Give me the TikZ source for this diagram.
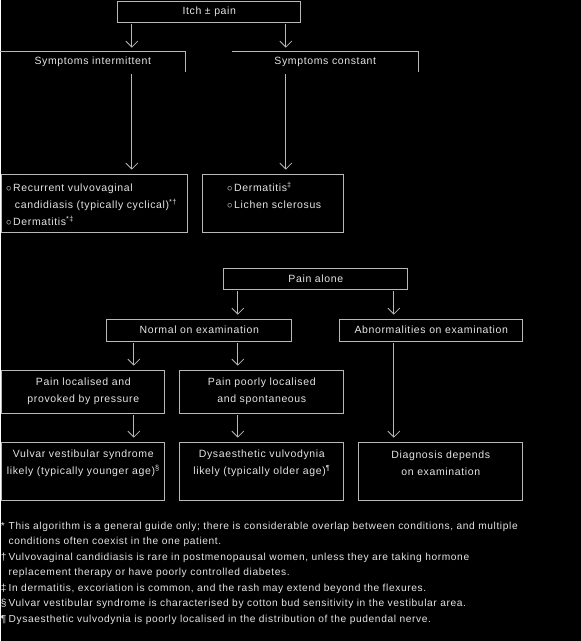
\documentclass[tikz,border=0pt]{standalone}
\usepackage{fontspec}
\setmainfont{Liberation Sans}[LetterSpace=6]
\usetikzlibrary{arrows.meta}
\definecolor{linegrey}{gray}{0.72}
\definecolor{textgrey}{gray}{0.9}
\newcommand{\boxfont}{\fontsize{10.5}{17}\selectfont}
\newcommand{\notefont}{\fontsize{10.2}{15.5}\selectfont}
\begin{document}
\begin{tikzpicture}[x=1pt,y=-1pt,
  box/.style={draw=linegrey,line width=.8pt,inner sep=0pt,minimum height=21pt,text=textgrey,align=center,font=\boxfont},
  tab/.style={box,draw=none},
  txt/.style={inner sep=0pt,text=textgrey,align=center,font=\boxfont},
  arr/.style={draw=linegrey,line width=.8pt,-{Straight Barb[length=6pt,width=12pt]},shorten <=2pt,shorten >=4pt}]
\fill[black] (0,0) rectangle (580,641);
%itch
\node[box,minimum width=183pt] (itch) at (208.5,11.5) {Itch ± pain};
\node[tab,minimum width=184pt,minimum height=20pt] (inter) at (92,62) {Symptoms intermittent};
\node[tab,minimum width=185pt,minimum height=20pt] (const) at (324.5,62) {Symptoms constant};
\draw[linegrey,line width=.8pt] (inter.north west) -- (inter.north east) -- (inter.south east);
\draw[linegrey,line width=.8pt] (const.north west) -- (const.north east) -- (const.south east);
\node[box,minimum width=186pt,minimum height=58pt] (interlist) at (94,203) {};
\node[box,minimum width=141pt,minimum height=58pt] (constlist) at (272.5,203) {};
\node[txt,anchor=north west,align=left] (interitems) at (5,179) {%
  \begin{tabular}{@{}l@{\,}l@{}}
  $\circ$ & Recurrent vulvovaginal\\
          & \,candidiasis (typically cyclical)\textsuperscript{*†}\\
  $\circ$ & Dermatitis\textsuperscript{*‡}
  \end{tabular}};
\node[txt,anchor=north west,align=left] (constitems) at (226,179) {%
  \begin{tabular}{@{}l@{\,}l@{}}
  $\circ$ & Dermatitis\textsuperscript{‡}\\
  $\circ$ & Lichen sclerosus
  \end{tabular}};
%pain alone
\node[box,minimum width=184pt] (pain) at (315,278.5) {Pain alone};
\node[box,minimum width=185pt,minimum height=22pt] (normal) at (198.5,330) {Normal on examination};
\node[box,minimum width=183pt,minimum height=22pt] (abnormal) at (430.5,330) {Abnormalities on examination};
\node[box,minimum width=163pt,minimum height=43pt] (localised) at (82.5,391.5) {Pain localised and\\provoked by pressure};
\node[box,minimum width=164pt,minimum height=43pt] (poorly) at (261,391.5) {Pain poorly localised\\and spontaneous};
\node[box,minimum width=163pt,minimum height=58pt] (vulvar) at (82.5,471) {};
\node[box,minimum width=164pt,minimum height=58pt] (dysaes) at (261,471) {};
\node[box,minimum width=164pt,minimum height=58pt] (diagnosis) at (440,471) {};
\node[txt] (vulvartext) at (82.5,463.5) {Vulvar vestibular syndrome\\likely (typically younger age)\textsuperscript{§}};
\node[txt] (dysaestext) at (261,463.5) {Dysaesthetic vulvodynia\\likely (typically older age)\textsuperscript{¶}};
\node[txt] (diagnosistext) at (440,463.5) {Diagnosis depends\\on examination};
%arrows
\coordinate (colA) at (131,0);
\coordinate (colB) at (285,0);
\coordinate (colC) at (237,0);
\coordinate (colD) at (393,0);
\coordinate (colE) at (133,0);
\draw[arr] (itch.south -| colA) -- (inter.north -| colA);
\draw[arr] (itch.south -| colB) -- (const.north -| colB);
\draw[arr] (inter.south -| colA) -- (interlist.north -| colA);
\draw[arr] (const.south -| colB) -- (constlist.north -| colB);
\draw[arr] (pain.south -| colC) -- (normal.north -| colC);
\draw[arr] (pain.south -| colD) -- (abnormal.north -| colD);
\draw[arr] (normal.south -| colE) -- (localised.north -| colE);
\draw[arr] (normal.south -| colC) -- (poorly.north -| colC);
\draw[arr] (localised.south -| colE) -- (vulvar.north -| colE);
\draw[arr] (poorly.south -| colC) -- (dysaes.north -| colC);
\draw[arr] (abnormal.south -| colD) -- (diagnosis.north -| colD);
%notes
\node[inner sep=0pt,anchor=north west,text=textgrey,font=\notefont,align=left] (notes) at (0,518) {%
  \begin{tabular}{@{}l@{\hspace{2pt}}l@{}}
  * & This algorithm is a general guide only; there is considerable overlap between conditions, and multiple\\
    & conditions often coexist in the one patient.\\
  † & Vulvovaginal candidiasis is rare in postmenopausal women, unless they are taking hormone\\
    & replacement therapy or have poorly controlled diabetes.\\
  ‡ & In dermatitis, excoriation is common, and the rash may extend beyond the flexures.\\
  § & Vulvar vestibular syndrome is characterised by cotton bud sensitivity in the vestibular area.\\
  ¶ & Dysaesthetic vulvodynia is poorly localised in the distribution of the pudendal nerve.
  \end{tabular}};
\end{tikzpicture}
\end{document}
